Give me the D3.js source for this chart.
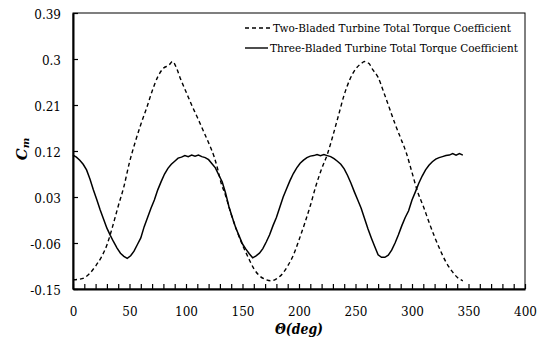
<!DOCTYPE html>
<html>
<head>
<meta charset="utf-8">
<script src="https://cdnjs.cloudflare.com/ajax/libs/d3/7.8.5/d3.min.js"></script>
<style>
  body { margin: 0; background: #fff; }
  svg text { font-family: "DejaVu Serif"; fill: #000; }
</style>
</head>
<body>
<div class="chart"></div>
<script>
// values
var twoAngles = [0,5,10,15,20,25,30,35,40,45,50,55,60,65,70,75,80,85,88,92,95,100,105,110,115,120,125,128,131,135,140,145,150,155,160,165,170,175,180,185,190,195,200,205,210,215,220,225,230,235,240,245,250,255,258,262,265,270,275,280,285,290,295,300,305,310,315,320,325,330,335,340,345];
var twoBladed = [-0.132,-0.131,-0.128,-0.119,-0.105,-0.088,-0.064,-0.028,0.012,0.050,0.098,0.137,0.172,0.203,0.237,0.265,0.282,0.288,0.295,0.280,0.262,0.236,0.210,0.186,0.161,0.136,0.108,0.085,0.058,0.033,-0.004,-0.036,-0.064,-0.088,-0.110,-0.124,-0.131,-0.134,-0.130,-0.121,-0.105,-0.084,-0.054,-0.022,0.013,0.052,0.085,0.113,0.150,0.190,0.230,0.260,0.280,0.291,0.295,0.291,0.280,0.264,0.235,0.204,0.173,0.145,0.116,0.078,0.040,0.012,-0.019,-0.048,-0.074,-0.097,-0.114,-0.127,-0.134];

var threeAngles = d3.range(0, 346, 3);
var threeBladed = [0.112,0.108,0.102,0.094,0.083,0.065,0.044,0.025,0.005,-0.013,
  -0.031,-0.045,-0.058,-0.070,-0.080,-0.086,-0.090,-0.085,-0.076,-0.063,
  -0.050,-0.028,-0.010,0.008,0.024,0.044,0.060,0.075,0.086,0.094,
  0.100,0.106,0.108,0.111,0.109,0.112,0.110,0.112,0.109,0.107,
  0.103,0.095,0.087,0.073,0.060,0.038,0.011,-0.010,-0.030,-0.046,
  -0.062,-0.072,-0.081,-0.089,-0.085,-0.080,-0.071,-0.058,-0.044,-0.026,
  -0.010,0.010,0.030,0.046,0.062,0.076,0.087,0.096,0.102,0.107,
  0.110,0.111,0.113,0.111,0.113,0.111,0.109,0.105,0.100,0.094,
  0.085,0.072,0.057,0.040,0.024,0.008,-0.012,-0.032,-0.050,-0.067,
  -0.083,-0.088,-0.088,-0.084,-0.074,-0.060,-0.044,-0.026,-0.010,0.003,
  0.024,0.040,0.057,0.071,0.083,0.092,0.099,0.104,0.107,0.109,
  0.111,0.112,0.115,0.112,0.115,0.112];

var yTicks = [-0.15,-0.06,0.03,0.12,0.21,0.3,0.39];
var yTickLabels = ["-0.15","-0.06","0.03","0.12","0.21","0.3","0.39"];
var xTicks = d3.range(0, 401, 10);
var seriesNames = ["Two-Bladed Turbine Total Torque Coefficient","Three-Bladed Turbine Total Torque Coefficient"];

var width = 541, height = 341;
var margin = {top: 13, right: 16, bottom: 52, left: 73};

var svg = d3.select(".chart").append("svg")
  .attr("width", width)
  .attr("height", height);

var xScale = d3.scaleLinear().domain([0, 400]).range([margin.left, width - margin.right]);
var yScale = d3.scaleLinear().domain([-0.15, 0.39]).range([height - margin.bottom, margin.top]);

// frame
svg.append("rect")
  .attr("x", xScale(0)).attr("y", yScale(0.39))
  .attr("width", xScale(400) - xScale(0))
  .attr("height", yScale(-0.15) - yScale(0.39))
  .attr("fill", "none").attr("stroke", "#000").attr("stroke-width", 1);

var xAxis = d3.axisBottom(xScale)
  .tickValues(xTicks)
  .tickSizeInner(-5).tickSizeOuter(0)
  .tickPadding(18)
  .tickFormat(function(d){ return d % 50 === 0 ? d : ""; });

var yAxis = d3.axisLeft(yScale)
  .tickValues(yTicks)
  .tickSizeInner(-5).tickSizeOuter(0)
  .tickPadding(12)
  .tickFormat(function(d, i){ return yTickLabels[i]; });

var gx = svg.append("g")
  .attr("transform", "translate(0," + yScale(-0.15) + ")")
  .call(xAxis);
var gy = svg.append("g")
  .attr("transform", "translate(" + xScale(0) + ",0)")
  .call(yAxis);

[gx, gy].forEach(function(g){
  g.attr("font-family", "DejaVu Serif").attr("font-size", 12);
  g.select(".domain").attr("stroke", "#000").attr("stroke-width", 2);
  g.selectAll(".tick line").attr("stroke", "#000").attr("stroke-width", 1.2);
  g.selectAll(".tick text").attr("fill", "#000");
});
gy.selectAll(".tick text").attr("dy", "0.45em");

// curves
var line = d3.line()
  .x(function(d){ return xScale(d[0]); })
  .y(function(d){ return yScale(d[1]); });

svg.append("path")
  .datum(twoAngles.map(function(a, i){ return [a, twoBladed[i]]; }))
  .attr("d", line.curve(d3.curveMonotoneX))
  .attr("fill", "none").attr("stroke", "#000")
  .attr("stroke-width", 1.4).attr("stroke-dasharray", "4,3");

svg.append("path")
  .datum(threeAngles.map(function(a, i){ return [a, threeBladed[i]]; }))
  .attr("d", line.curve(d3.curveLinear))
  .attr("fill", "none").attr("stroke", "#000")
  .attr("stroke-width", 1.5);

// legend
var legendRows = [
  {y: 28, dash: "4,3", x2: 271, tx: 273, tw: 238},
  {y: 48, dash: null, x2: 268, tx: 270, tw: 248}
];
legendRows.forEach(function(r, i){
  svg.append("line")
    .attr("x1", 245).attr("x2", r.x2)
    .attr("y1", r.y).attr("y2", r.y)
    .attr("stroke", "#000").attr("stroke-width", 1.4)
    .attr("stroke-dasharray", r.dash);
  svg.append("text")
    .attr("x", r.tx).attr("y", r.y + 4)
    .attr("font-size", 11.5)
    .attr("textLength", r.tw)
    .attr("lengthAdjust", "spacingAndGlyphs")
    .text(seriesNames[i]);
});

// axis titles
var ylab = svg.append("text")
  .attr("transform", "translate(27,149) rotate(-90)")
  .attr("text-anchor", "middle")
  .attr("font-size", 15)
  .attr("font-weight", "bold")
  .attr("font-style", "italic");
ylab.append("tspan").text("C");
ylab.append("tspan").attr("font-size", 10).attr("dy", 2).text("m");

svg.append("text")
  .attr("x", (xScale(0) + xScale(400)) / 2 - 24)
  .attr("y", 334)
  .attr("font-size", 14)
  .attr("font-weight", "bold")
  .attr("font-style", "italic")
  .attr("textLength", 48)
  .attr("lengthAdjust", "spacingAndGlyphs")
  .text("\u0398(deg)");
</script>
</body>
</html>
